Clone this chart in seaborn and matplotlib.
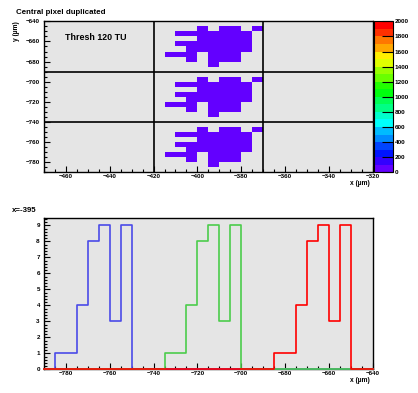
"""Central pixel map with y-slices at x=-395."""
import colorsys
import numpy as np
import pandas as pd
import matplotlib
matplotlib.use("Agg")
import matplotlib.pyplot as plt
from matplotlib.colors import ListedColormap
from matplotlib.ticker import MultipleLocator
import seaborn as sns

# cluster shape, 5x5 um bins, same in each of the three stacked pixels
blob_rows = ["...X.XX.X",
             ".XXXXXXX.",
             "...XXXXX.",
             ".XXXXXXX.",
             "..XXXXXX.",
             "XXX.XXX..",
             "..X.XXX..",
             "....X...."]
blob_left = -415
blob_tops = [-645, -695, -745]
cell_value = 60

pixel_x = [-420, -370]
pixel_y = [-690, -740]

# slices at x=-395
blue_y = [-782.5, -777.5, -772.5, -767.5, -762.5, -757.5, -752.5]
blue_n = [1, 1, 4, 8, 9, 3, 9]
green_y = [-732.5, -727.5, -722.5, -717.5, -712.5, -707.5, -702.5]
green_n = [1, 1, 4, 8, 9, 3, 9]
red_y = [-682.5, -677.5, -672.5, -667.5, -662.5, -657.5, -652.5]
red_n = [1, 1, 4, 8, 9, 3, 9]

plt.rcParams['font.family'] = ['Liberation Sans', 'DejaVu Sans']
plt.rcParams['font.weight'] = 'bold'
plt.rcParams['axes.linewidth'] = 1.0

# ROOT "pretty" palette, 20 contour levels
palette = []
for i in range(20):
    k = int((i + 0.99) * 50 / 20)
    hue = 280 - (k + 1) * 280 / 50
    palette.append(colorsys.hls_to_rgb(hue / 360, 0.5, 1.0))
cmap = ListedColormap(palette)

xs, ys, ws = [], [], []
for top in blob_tops:
    for r, row in enumerate(blob_rows):
        for c, ch in enumerate(row):
            if ch == 'X':
                xs.append(blob_left + 5 * c + 2.5)
                ys.append(top - 5 * r - 2.5)
                ws.append(cell_value)
df_map = pd.DataFrame({'x': xs, 'y': ys, 'w': ws})

W, H = 418, 393
fig = plt.figure(figsize=(W / 100, H / 100), dpi=100)
ax1 = fig.add_axes([44 / W, 1 - 172.3 / H, 328.7 / W, 151 / H])
cax = fig.add_axes([374 / W, 1 - 172.3 / H, 19.3 / W, 151 / H])
ax2 = fig.add_axes([44 / W, 1 - 369.3 / H, 328.7 / W, 151 / H])

bg = '#e5e5e5'
for ax in (ax1, ax2):
    ax.set_facecolor(bg)

sns.histplot(data=df_map, x='x', y='y', weights='w', binwidth=5,
             binrange=((-470, -320), (-790, -640)),
             cmap=cmap, vmin=0, vmax=2000, cbar=False, ax=ax1)
mesh = ax1.collections[0]
mesh.set_clim(0, 2000)
for xv in pixel_x:
    ax1.axvline(xv, color='black', lw=1.2)
for yv in pixel_y:
    ax1.axhline(yv, color='black', lw=1.2)
ax1.set_xlim(-470, -320)
ax1.set_ylim(-790, -640)
ax1.set_xlabel('')
ax1.set_ylabel('')
ax1.xaxis.set_major_locator(MultipleLocator(20))
ax1.xaxis.set_minor_locator(MultipleLocator(5))
ax1.yaxis.set_major_locator(MultipleLocator(20))
ax1.yaxis.set_minor_locator(MultipleLocator(5))

cb = fig.colorbar(mesh, cax=cax)
cb.set_ticks(range(0, 2001, 200))
cb.outline.set_linewidth(0.8)
cax.tick_params(direction='in', length=8, width=0.8, labelsize=4.6, pad=1)
cax.minorticks_off()

line_kws = {'element': 'step', 'fill': False, 'linewidth': 1.2}
slices = [(blue_y, blue_n, '#4b4be8'),
          (green_y, green_n, '#4ccc4c'),
          (red_y, red_n, '#ff0000')]
for yy, nn, col in slices:
    df = pd.DataFrame({'y': yy, 'n': nn})
    sns.histplot(data=df, x='y', weights='n', binwidth=5,
                 binrange=(-790, -640), color=col, ax=ax2, **line_kws)
for i, ln in enumerate(ax2.lines):
    ln.set_zorder(3 + i)
    ln.set_clip_on(False)
ax2.set_xlim(-790, -640)
ax2.set_ylim(0, 9.45)
ax2.set_xlabel('')
ax2.set_ylabel('')
ax2.xaxis.set_major_locator(MultipleLocator(20))
ax2.xaxis.set_minor_locator(MultipleLocator(5))
ax2.yaxis.set_major_locator(MultipleLocator(1))
ax2.yaxis.set_minor_locator(MultipleLocator(0.2))

for ax in (ax1, ax2):
    ax.tick_params(which='both', direction='in', top=False, right=False,
                   labelsize=4.5, width=0.8)
    ax.tick_params(axis='x', which='major', length=4, pad=1.5)
    ax.tick_params(axis='x', which='minor', length=2)
    ax.tick_params(axis='y', which='major', length=4.5, pad=3)
    ax.tick_params(axis='y', which='minor', length=2.2)

fig.text(16 / W, 1 - 13 / H, 'Central pixel duplicated', fontsize=5.7,
         ha='left', va='center')
fig.text(65 / W, 1 - 37.7 / H, 'Thresh 120 TU', fontsize=6.4,
         ha='left', va='center')
fig.text(16.7 / W, 1 - 21.5 / H, 'y (\u00b5m)', fontsize=4.8, rotation=90,
         ha='center', va='top')
fig.text(370 / W, 1 - 183.3 / H, 'x (\u00b5m)', fontsize=4.8,
         ha='right', va='center')
fig.text(12 / W, 1 - 210 / H, 'x=-395', fontsize=5.7,
         ha='left', va='center')
fig.text(370 / W, 1 - 381 / H, 'x (\u00b5m)', fontsize=4.8,
         ha='right', va='center')

fig.savefig('out.png', dpi=100)
